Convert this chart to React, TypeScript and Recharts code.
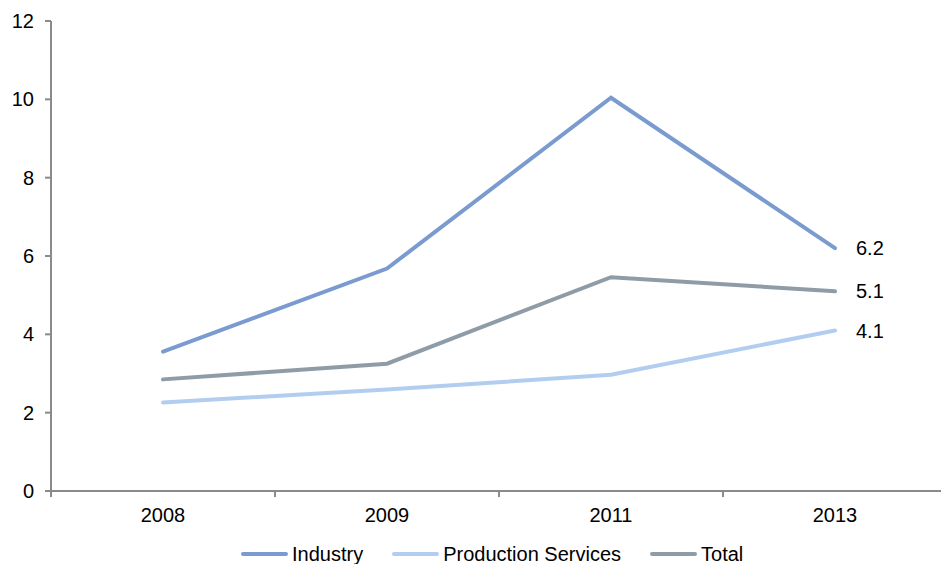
import React from 'react'
import { LineChart, Line, XAxis, YAxis, Legend, LabelList } from 'recharts'

const years = ['2008', '2009', '2011', '2013']
const industry = [3.56, 5.68, 10.04, 6.2]
const productionServices = [2.26, 2.59, 2.97, 4.1]
const total = [2.85, 3.25, 5.46, 5.1]
const yTicks = [0, 2, 4, 6, 8, 10, 12]

const series = [
  { key: 'industry', name: 'Industry', color: '#7a9bcf' },
  { key: 'production', name: 'Production Services', color: '#b3cdf1' },
  { key: 'total', name: 'Total', color: '#8e9ca8' }
]

const last = years.length - 1
const data = years.map((year, i) => ({
  year,
  industry: industry[i],
  production: productionServices[i],
  total: total[i],
  industryEnd: i === last ? industry[i] : null,
  productionEnd: i === last ? productionServices[i] : null,
  totalEnd: i === last ? total[i] : null
}))

const font = '"Liberation Sans", Arial, sans-serif'
const axisColor = '#8a8a8a'
const band = 224 // width of one category slot on the x axis
const tickSize = 6
const tickMargin = 11

// year label plus tick marks at the slot edges (Excel style)
function YearTick(props: any) {
  const { x, y, payload, index } = props
  const axisY = y - tickSize - tickMargin
  const edges = index === 0 ? [x - band / 2, x + band / 2] : [x + band / 2]
  return (
    <g>
      {edges.map(ex => (
        <line key={ex} x1={ex} x2={ex} y1={axisY} y2={axisY + tickSize} stroke={axisColor} strokeWidth={2} />
      ))}
      <text x={x} y={y} dy="0.71em" textAnchor="middle" fontSize={20} fill="#000" fontFamily={font}>
        {payload.value}
      </text>
    </g>
  )
}

function ChartLegend() {
  return (
    <div style={{ display: 'flex', alignItems: 'center', fontFamily: font, fontSize: 20, lineHeight: '22px', color: '#000' }}>
      {series.map(s => (
        <div key={s.key} style={{ display: 'flex', alignItems: 'center', marginRight: 29 }}>
          <div style={{ width: 47, height: 4, borderRadius: 2, background: s.color, marginRight: 4 }} />
          <span>{s.name}</span>
        </div>
      ))}
    </div>
  )
}

export default function App() {
  return (
    <div style={{ position: 'absolute', left: 0, top: 0, width: 941, height: 564, overflow: 'hidden', background: '#fff' }}>
      <LineChart width={950} height={564} data={data} margin={{ top: 21, right: 3, left: 0, bottom: 49 }}>
        <YAxis
          domain={[0, 12]}
          ticks={yTicks}
          width={51}
          tickSize={tickSize}
          tickMargin={tickMargin}
          axisLine={{ stroke: axisColor, strokeWidth: 2 }}
          tickLine={{ stroke: axisColor, strokeWidth: 2 }}
          tick={{ fontSize: 20, fill: '#000', fontFamily: font }}
        />
        <XAxis
          dataKey="year"
          height={2}
          padding={{ left: band / 2, right: band / 2 }}
          axisLine={{ stroke: axisColor, strokeWidth: 2 }}
          tickLine={false}
          tickSize={tickSize}
          tickMargin={tickMargin}
          interval={0}
          tick={<YearTick />}
        />
        {series.map(s => (
          <Line
            key={s.key}
            dataKey={s.key}
            name={s.name}
            stroke={s.color}
            strokeWidth={4}
            strokeLinecap="round"
            dot={false}
            activeDot={false}
            isAnimationActive={false}
          >
            <LabelList
              dataKey={s.key + 'End'}
              position="right"
              offset={21}
              style={{ fontSize: 20, fill: '#000', fontFamily: font }}
            />
          </Line>
        ))}
        <Legend
          verticalAlign="bottom"
          height={22}
          content={() => <ChartLegend />}
          wrapperStyle={{ left: 241, bottom: -1, width: 700 }}
        />
      </LineChart>
    </div>
  )
}
